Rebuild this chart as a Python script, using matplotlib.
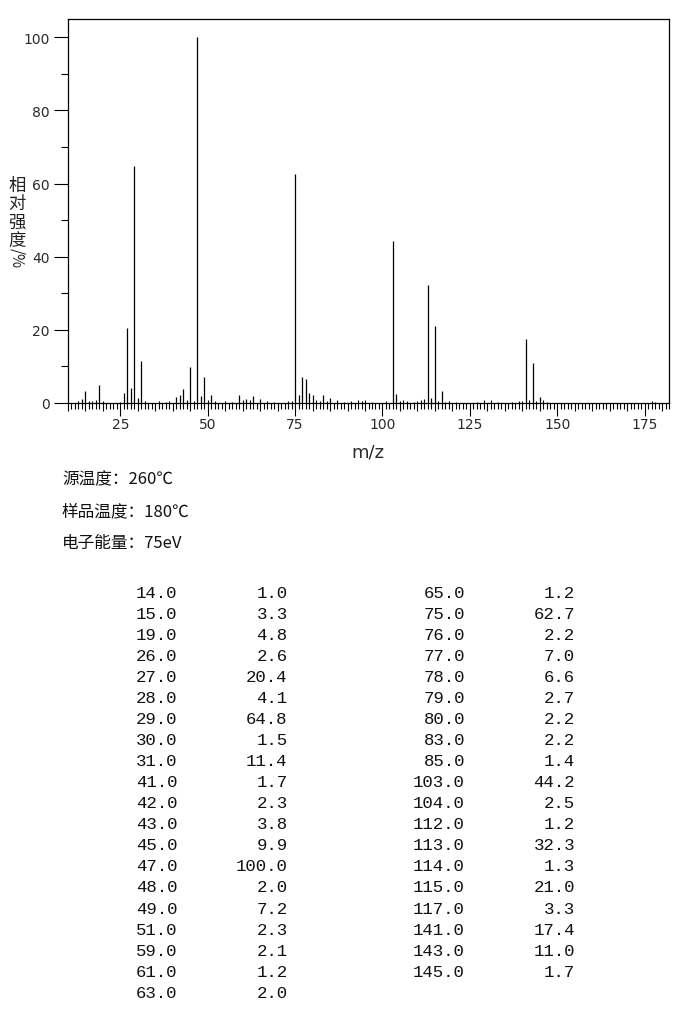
import numpy as np
import matplotlib.pyplot as plt
from matplotlib.ticker import MultipleLocator, FuncFormatter


# Listed peaks (m/z, relative intensity %)
mz_list = [14, 15, 19, 26, 27, 28, 29, 30, 31, 41, 42, 43, 45, 47, 48, 49, 51, 59, 61, 63,
           65, 75, 76, 77, 78, 79, 80, 83, 85, 103, 104, 112, 113, 114, 115, 117, 141, 143, 145]
int_list = [1.0, 3.3, 4.8, 2.6, 20.4, 4.1, 64.8, 1.5, 11.4, 1.7, 2.3, 3.8, 9.9, 100.0, 2.0, 7.2, 2.3, 2.1, 1.2, 2.0,
            1.2, 62.7, 2.2, 7.0, 6.6, 2.7, 2.2, 2.2, 1.4, 44.2, 2.5, 1.2, 32.3, 1.3, 21.0, 3.3, 17.4, 11.0, 1.7]

# tiny peaks seen on the plot but not in the table (estimated)
mz_small = [13, 16, 17, 18, 20, 25, 32, 36, 38, 39, 44, 46, 50, 52, 55, 57, 60, 62, 67, 69,
            73, 74, 81, 82, 84, 87, 89, 91, 93, 94, 95, 97, 101, 105, 106, 107, 109, 110, 111,
            116, 118, 119, 121, 127, 129, 131, 133, 137, 139, 140, 142, 144, 146, 147, 177, 178]
int_small = [0.5, 0.6, 0.5, 0.7, 0.6, 0.4, 0.6, 0.5, 0.4, 0.5, 0.9, 0.6, 0.8, 0.6, 0.5, 0.4, 0.7, 0.8, 0.6, 0.4,
             0.5, 0.6, 0.7, 0.5, 0.6, 0.8, 0.4, 0.5, 0.8, 0.6, 0.7, 0.4, 0.5, 0.6, 0.9, 0.5, 0.4, 0.6, 0.9,
             0.6, 0.4, 0.5, 0.4, 0.4, 0.7, 0.7, 0.4, 0.4, 0.5, 0.6, 0.9, 0.5, 0.7, 0.4, 0.6, 0.4]

info_lines = ['源温度：260℃', '样品温度：180℃', '电子能量：75eV']
ylabel_chars = '相对强度'

W, H = 681, 1020
fx = lambda px: px / W
fy = lambda py: 1 - py / H

fig = plt.figure(figsize=(W / 100, H / 100), dpi=100)
ax = fig.add_axes([fx(68), fy(404), (669 - 68) / W, (404 - 20) / H])

ax.vlines(mz_small, 0, int_small, color='black', linewidth=0.8)
ax.vlines(mz_list, 0, int_list, color='black', linewidth=0.9)

ax.set_xlim(10, 182)
ax.set_ylim(0, 105)

# x ticks: every 5 (medium), every 1 (small), labels every 25 (long)
ax.xaxis.set_major_locator(MultipleLocator(5))
ax.xaxis.set_minor_locator(MultipleLocator(1))
ax.xaxis.set_major_formatter(FuncFormatter(lambda v, p: f'{int(v)}' if int(round(v)) % 25 == 0 else ''))
ax.tick_params(axis='x', which='major', length=6, width=0.8, pad=4, labelsize=10, labelcolor='#2a2a2a')
ax.tick_params(axis='x', which='minor', length=4, width=0.8)
fig.canvas.draw()
for t in ax.xaxis.get_major_ticks():
    if int(round(t.get_loc())) % 25 == 0:
        t.tick1line.set_markersize(9)

ax.yaxis.set_major_locator(MultipleLocator(20))
ax.yaxis.set_minor_locator(MultipleLocator(10))
ax.tick_params(axis='y', which='major', length=10, width=0.8, pad=3, labelsize=10, labelcolor='#2a2a2a')
ax.tick_params(axis='y', which='minor', length=5, width=0.8)
for s in ax.spines.values():
    s.set_linewidth(0.9)

fig.text(fx(368), fy(453), 'm/z', ha='center', va='center', fontsize=13, color='#2a2a2a')

cjk = ['Noto Sans CJK SC', 'DejaVu Sans']
for i, ch in enumerate(ylabel_chars):
    fig.text(fx(17), fy(186 + i * 18.3), ch, ha='center', va='center', fontsize=12.5, family=cjk, color='#222222')
fig.text(fx(17), fy(258), '/%', ha='center', va='center', rotation=-90, fontsize=11, family=cjk, color='#222222')

for i, line in enumerate(info_lines):
    fig.text(fx(62), fy(480 + i * 31.5), line, ha='left', va='center', fontsize=12, family=cjk, color='#111111')

# peak table in two column pairs
n_left = 20
mono = 'Liberation Mono'
for i, (m, v) in enumerate(zip(mz_list, int_list)):
    col = 0 if i < n_left else 1
    row = i if col == 0 else i - n_left
    y = fy(593.3 + row * 21.05)
    x_m, x_v = (177.5, 287.5) if col == 0 else (465, 575)
    fig.text(fx(x_m), y, f'{m:.1f}', ha='right', va='center', family=mono, fontsize=12.5, color='#111111')
    fig.text(fx(x_v), y, f'{v:.1f}', ha='right', va='center', family=mono, fontsize=12.5, color='#111111')

fig.savefig('out.png', dpi=100)
